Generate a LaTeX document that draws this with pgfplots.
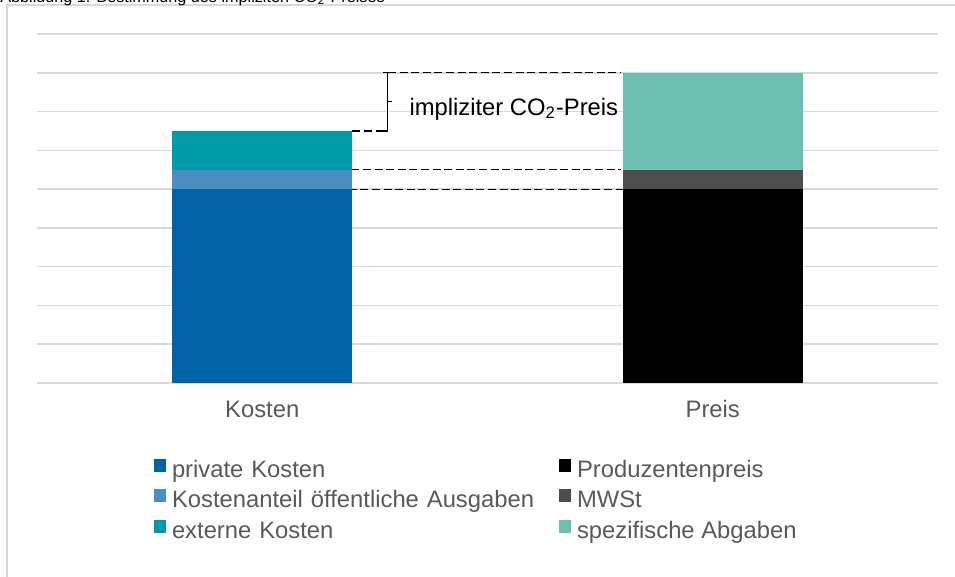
\documentclass[border=0pt]{standalone}
\usepackage{pgfplots}
\pgfplotsset{compat=1.18}
\usepackage{fontspec}
\setmainfont{Liberation Sans}
\definecolor{privK}{HTML}{0063A6}
\definecolor{oeffA}{HTML}{4A8FC0}
\definecolor{extK}{HTML}{009AA9}
\definecolor{prodP}{HTML}{000000}
\definecolor{mwst}{HTML}{4D4D4D}
\definecolor{spezA}{HTML}{6DBFB1}
\definecolor{gridc}{HTML}{D9D9D9}
\definecolor{txt}{HTML}{595959}
\newcommand{\lblfont}{\fontsize{11.9}{14.2}\selectfont}
\begin{document}
\begin{tikzpicture}[x=1pt,y=1pt]
\useasboundingbox (0,0) rectangle (477.5,288.5);
\draw[gridc, line width=0.6pt] (3.5,-20) -- (3.5,286) -- (520,286);
\node[anchor=base west, inner sep=0pt, font=\fontsize{8.1}{9.7}\selectfont] at (0,287.4) {Abbildung 1: Bestimmung des impliziten CO\textsubscript{2}-Preises};
\begin{axis}[
  at={(18.5pt,97pt)}, anchor=south west,
  scale only axis, width=450.5pt, height=174.5pt,
  xmin=-0.5, xmax=1.5, ymin=0, ymax=9,
  ybar stacked, bar width=0.4,
  axis line style={draw=none},
  ytick={0,1,...,9}, yticklabels={},
  ymajorgrids, grid style={gridc, line width=0.75pt},
  major tick length=0pt,
  xtick={0,1}, xticklabels={Kosten,Preis},
  xticklabel style={anchor=base, yshift=-17.5pt, font=\lblfont, text=txt},
  legend columns=2,
  legend cell align=left,
  legend style={at={(0.12986,-0.21777)}, anchor=north west, draw=none, fill=none,
    inner sep=0pt, outer sep=0pt, font=\lblfont, text=txt,
    nodes={inner sep=0pt, text height=8pt, text depth=2.5pt},
    row sep=3.5pt,
    /tikz/every odd column/.append style={column sep=3pt},
    /tikz/column 2/.style={text width=193.5pt}},
  legend image code/.code={\fill[#1] (0pt,0pt) rectangle (6pt,6.5pt);},
]
\addplot[fill=privK, draw=none] coordinates {(0,5) (1,0)};
\addlegendentry{private Kosten}
\addplot[fill=prodP, draw=none] coordinates {(0,0) (1,5)};
\addlegendentry{Produzentenpreis}
\addplot[fill=oeffA, draw=none] coordinates {(0,0.5) (1,0)};
\addlegendentry{Kostenanteil öffentliche Ausgaben}
\addplot[fill=mwst, draw=none] coordinates {(0,0) (1,0.5)};
\addlegendentry{MWSt}
\addplot[fill=extK, draw=none] coordinates {(0,1) (1,0)};
\addlegendentry{externe Kosten}
\addplot[fill=spezA, draw=none] coordinates {(0,0) (1,2.5)};
\addlegendentry{spezifische Abgaben}
\draw[black, line width=0.55pt, dash pattern=on 4pt off 1.8pt] (axis cs:0.2,6.5) -- (axis cs:0.268,6.5);
\draw[black, line width=0.55pt] (axis cs:0.268,8) -- (axis cs:0.279,8) -- (axis cs:0.279,6.5) -- (axis cs:0.268,6.5);
\draw[black, line width=0.55pt] (axis cs:0.279,7.25) -- (axis cs:0.288,7.25);
\draw[black, line width=0.55pt, dash pattern=on 4pt off 1.8pt] (axis cs:0.279,8) -- (axis cs:0.796,8);
\draw[black, line width=0.55pt, dash pattern=on 4pt off 1.8pt] (axis cs:0.198,5.5) -- (axis cs:0.796,5.5);
\draw[black, line width=0.55pt, dash pattern=on 4pt off 1.8pt] (axis cs:0.192,5) -- (axis cs:0.8,5);
\node[anchor=base west, inner sep=0pt, font=\lblfont, text=black] at (axis cs:0.326,6.907) {impliziter CO\textsubscript{2}-Preis};
\end{axis}
\end{tikzpicture}
\end{document}
